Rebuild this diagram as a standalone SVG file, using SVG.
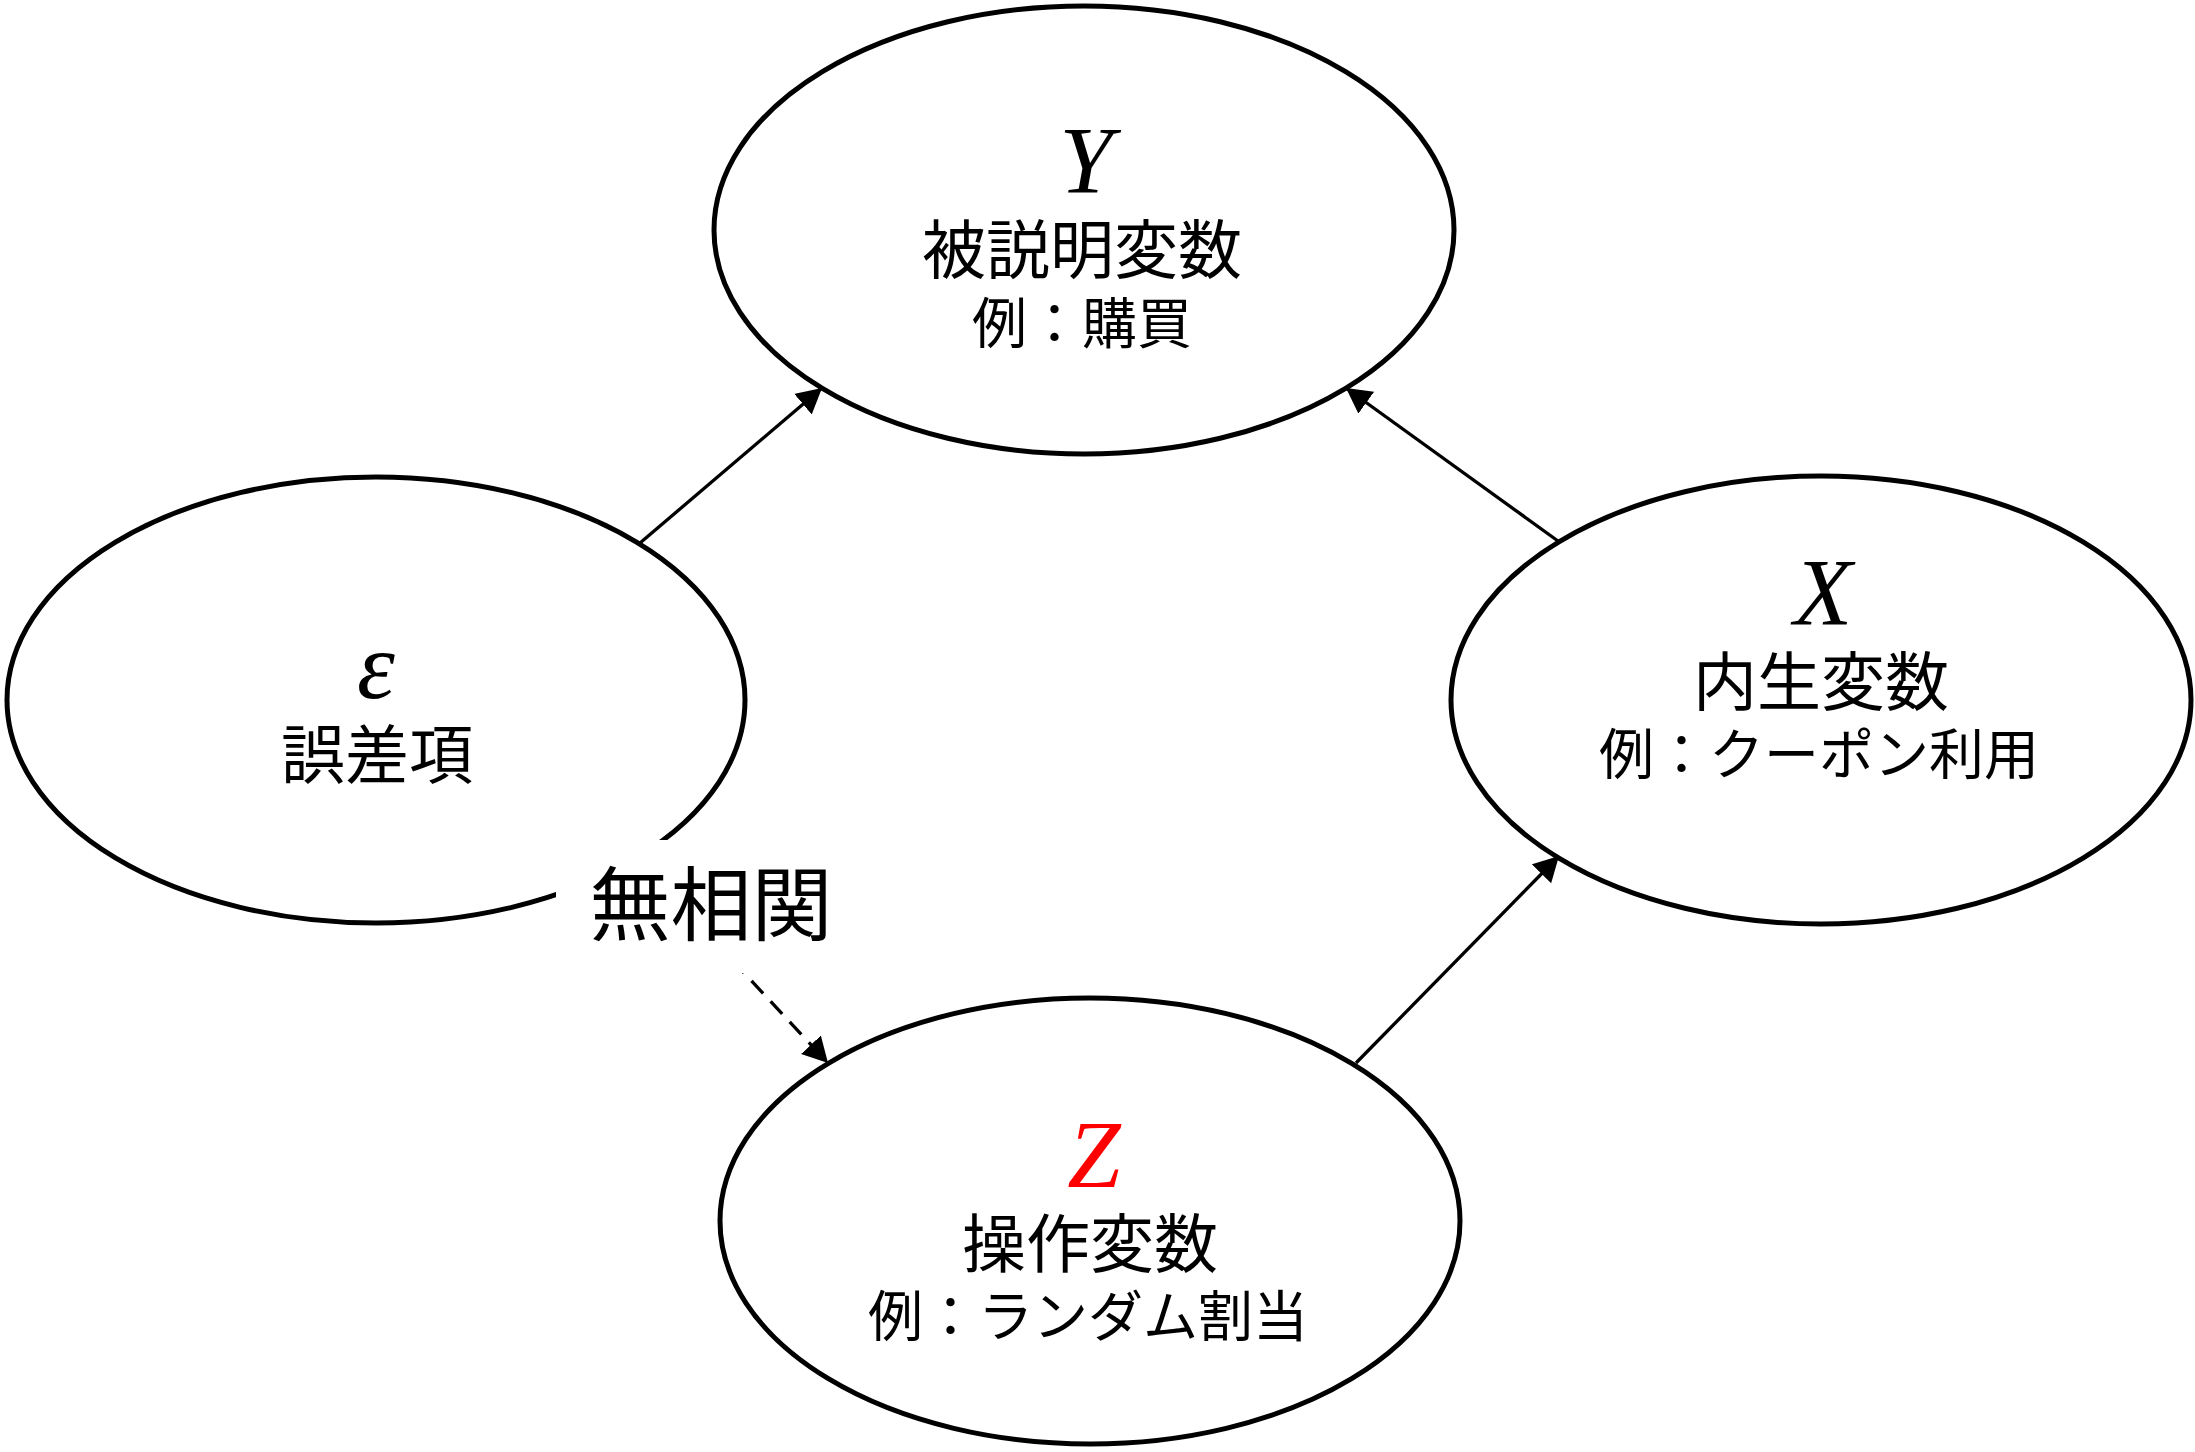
<svg xmlns="http://www.w3.org/2000/svg" width="2195" height="1452" viewBox="0 0 2195 1452">
  <style>
    .node { fill: #ffffff; stroke: #000000; stroke-width: 5; }
    .var { font-family: "Liberation Serif", "Times New Roman", serif; font-style: italic; font-size: 96px; text-anchor: middle; fill: #000000; }
    .head { font-family: "Noto Sans CJK JP", "Noto Sans", sans-serif; font-size: 64px; text-anchor: middle; fill: #000000; }
    .ex { font-family: "Noto Sans CJK JP", "Noto Sans", sans-serif; font-size: 55px; text-anchor: middle; fill: #000000; }
    .edge { fill: none; stroke: #000000; stroke-width: 3.3; }
    .dashed { stroke-dasharray: 17 11; }
    .lbl { font-family: "Noto Sans CJK JP", "Noto Sans", sans-serif; font-size: 81px; text-anchor: middle; fill: #000000; }
  </style>
  <defs>
    <marker id="arrow" markerUnits="userSpaceOnUse" markerWidth="26" markerHeight="28" refX="25" refY="13.5" orient="auto">
      <path d="M0,0 L25,13.5 L0,27 z" fill="#000000"/>
    </marker>
  </defs>
  <rect x="0" y="0" width="2195" height="1452" fill="#ffffff"/>

  <g id="node-Y">
    <ellipse class="node" cx="1084" cy="230" rx="370" ry="224"/>
    <text class="var" x="1086" y="193">Y</text>
    <text class="head" x="1082" y="273">被説明変数</text>
    <text class="ex" x="1082" y="343">例：購買</text>
  </g>

  <g id="node-epsilon">
    <ellipse class="node" cx="376" cy="700" rx="369" ry="223"/>
    <text class="var" x="376" y="698">ε</text>
    <text class="head" x="377" y="778">誤差項</text>
  </g>

  <g id="node-X">
    <ellipse class="node" cx="1821" cy="700" rx="370" ry="224"/>
    <text class="var" x="1823" y="625">X</text>
    <text class="head" x="1821" y="705">内生変数</text>
    <text class="ex" x="1819" y="774">例：クーポン利用</text>
  </g>

  <g id="node-Z">
    <ellipse class="node" cx="1090" cy="1221" rx="370" ry="223"/>
    <text class="var" x="1094" y="1187" style="fill:#ff0000">Z</text>
    <text class="head" x="1090" y="1267">操作変数</text>
    <text class="ex" x="1088" y="1336">例：ランダム割当</text>
  </g>

  <g id="connectors">
    <line class="edge" x1="640" y1="543" x2="822" y2="388" marker-end="url(#arrow)"/>
    <line class="edge" x1="1558" y1="541" x2="1346" y2="388" marker-end="url(#arrow)"/>
    <line class="edge" x1="1356" y1="1063" x2="1559" y2="856" marker-end="url(#arrow)"/>
    <line class="edge dashed" x1="637" y1="858" x2="828" y2="1063" marker-end="url(#arrow)"/>
    <g id="label-uncorrelated">
      <rect x="556" y="840" width="310" height="133" fill="#ffffff"/>
      <text class="lbl" x="711" y="934">無相関</text>
    </g>
  </g>
</svg>
